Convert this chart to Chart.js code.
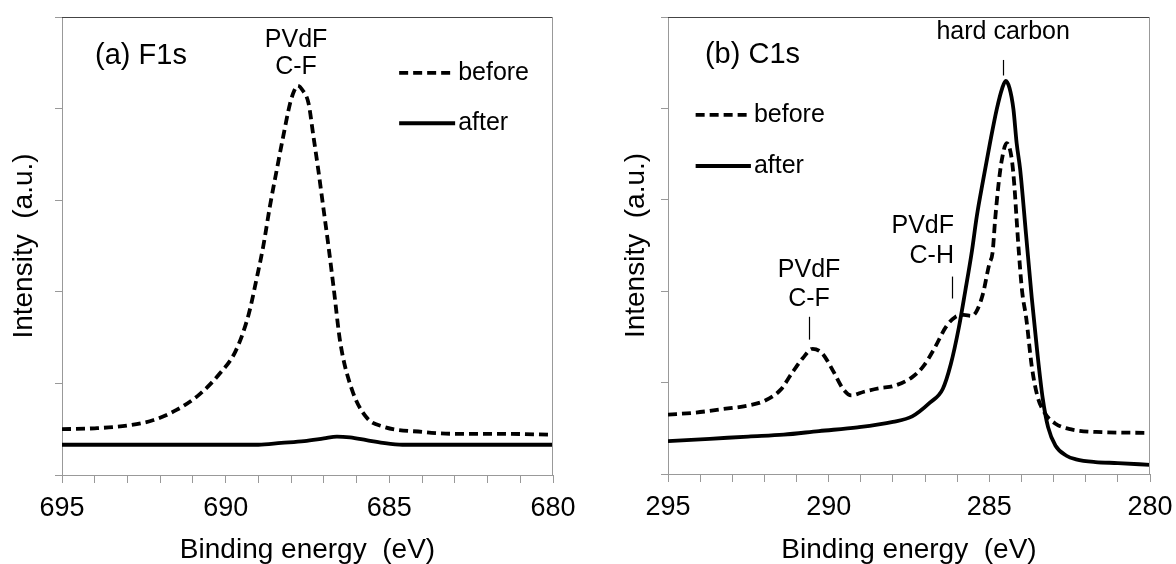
<!DOCTYPE html>
<html>
<head>
<meta charset="utf-8">
<title>XPS F1s / C1s</title>
<script src="https://cdn.jsdelivr.net/npm/chart.js@4.4.0/dist/chart.umd.min.js"></script>
<style>
  body { margin: 0; background: #fff; }
  .panel { position: absolute; top: 0; width: 588px; height: 564px; }
  #panelA { left: 0; }
  #panelB { left: 588px; }
</style>
</head>
<body>
<div class="panel" id="panelA"><canvas id="chartA" width="588" height="564"></canvas></div>
<div class="panel" id="panelB"><canvas id="chartB" width="588" height="564"></canvas></div>
<script>
// (a) F1s - binding energy (eV) dan intensitas (a.u.)
const f1sBeforeE = [695, 694, 693, 692.2, 691.5, 690.8, 690.2, 689.7, 689.3, 689.05, 688.85, 688.65, 688.44, 688.24, 688.03, 687.9, 687.8, 687.65, 687.47, 687.32, 687.17, 687.02, 686.86, 686.7, 686.5, 686.15, 685.7, 685.2, 684.0, 683.0, 681.7, 680];
const f1sBeforeI = [0.50, 0.51, 0.54, 0.60, 0.71, 0.88, 1.10, 1.35, 1.75, 2.15, 2.50, 2.93, 3.33, 3.70, 4.06, 4.20, 4.25, 4.20, 4.06, 3.70, 3.33, 2.93, 2.50, 2.04, 1.45, 0.94, 0.63, 0.53, 0.47, 0.45, 0.45, 0.44];
const f1sAfterE = [695, 689, 688.3, 687.6, 687, 686.6, 686.2, 685.7, 685.2, 684.6, 680];
const f1sAfterI = [0.33, 0.33, 0.35, 0.37, 0.40, 0.42, 0.41, 0.38, 0.35, 0.33, 0.33];

// (b) C1s
const c1sBeforeE = [295, 294.2, 293.3, 292.5, 292, 291.5, 291.15, 290.8, 290.5, 290.2, 289.85, 289.55, 289.3, 288.9, 288.4, 288, 287.4, 287.05, 286.7, 286.35, 286.05, 285.8, 285.55, 285.4, 285.2, 285.0, 284.9, 284.82, 284.72, 284.61, 284.46, 284.3, 284.22, 284.15, 284.08, 283.98, 283.85, 283.68, 283.51, 283.28, 282.94, 282.48, 281.68, 280];
const c1sBeforeI = [0.65, 0.67, 0.71, 0.75, 0.80, 0.92, 1.10, 1.27, 1.37, 1.32, 1.12, 0.93, 0.86, 0.90, 0.94, 0.96, 1.06, 1.18, 1.38, 1.61, 1.72, 1.74, 1.73, 1.78, 1.97, 2.30, 2.42, 2.78, 3.15, 3.44, 3.62, 3.44, 3.15, 2.78, 2.42, 2.00, 1.70, 1.18, 0.86, 0.67, 0.55, 0.49, 0.46, 0.45];
const c1sAfterE = [295, 293.7, 292.5, 291.4, 290.3, 289.1, 288, 287.4, 286.85, 286.45, 286.2, 285.95, 285.75, 285.55, 285.39, 285.19, 284.98, 284.77, 284.6, 284.49, 284.37, 284.25, 284.15, 284.04, 283.86, 283.68, 283.51, 283.34, 283.17, 282.94, 282.6, 282.3, 281.7, 281, 280];
const c1sAfterI = [0.36, 0.385, 0.41, 0.43, 0.47, 0.51, 0.57, 0.63, 0.78, 0.93, 1.20, 1.60, 2.00, 2.42, 2.82, 3.22, 3.62, 3.99, 4.22, 4.30, 4.22, 3.99, 3.62, 3.33, 2.63, 1.93, 1.34, 0.83, 0.51, 0.31, 0.20, 0.16, 0.13, 0.12, 0.10];

const seriesNames = ['before', 'after'];
const FONT = "'Liberation Sans', Arial, sans-serif";

// Teks anotasi & legenda (posisi dalam koordinat data)
const notesA = [
  { text: '(a) F1s', e: 693.99, v: 4.57, align: 'left', size: 29 },
  { text: 'PVdF', e: 687.85, v: 4.75, align: 'center', size: 25 },
  { text: 'C-F', e: 687.85, v: 4.45, align: 'center', size: 25 }
];
const marksA = [];
const legendA = { e0: 684.70, e1: 682.99, v: [4.39, 3.84] };

const notesB = [
  { text: '(b) C1s', e: 293.85, v: 4.58, align: 'left', size: 29 },
  { text: 'hard carbon', e: 284.57, v: 4.83, align: 'center', size: 25 },
  { text: 'PVdF', e: 286.1, v: 2.71, align: 'right', size: 25 },
  { text: 'C-H', e: 286.1, v: 2.38, align: 'right', size: 25 },
  { text: 'PVdF', e: 290.61, v: 2.23, align: 'center', size: 25 },
  { text: 'C-F', e: 290.61, v: 1.91, align: 'center', size: 25 }
];
const marksB = [[284.57, 4.53, 4.36], [286.17, 2.16, 1.92], [290.61, 1.72, 1.47]];
const legendB = { e0: 294.14, e1: 292.42, v: [3.93, 3.37] };

const DASH = [9, 5];
const LINE_W = 3.8;

function toPoints(xs, ys) {
  return xs.map((x, i) => ({ x: x, y: ys[i] }));
}

// Plugin: garis atas/kanan, anotasi, legenda
function decorPlugin(notes, marks, legend) {
  return {
    id: 'decor',
    afterDraw(chart) {
      const ctx = chart.ctx;
      const a = chart.chartArea;
      const sx = chart.scales.x, sy = chart.scales.y;
      ctx.save();
      ctx.lineWidth = 1;
      ctx.strokeStyle = '#444';
      ctx.beginPath(); ctx.moveTo(a.left, a.top + 0.5); ctx.lineTo(a.right, a.top + 0.5); ctx.stroke();
      ctx.strokeStyle = '#999';
      ctx.beginPath(); ctx.moveTo(a.right - 0.5, a.top); ctx.lineTo(a.right - 0.5, a.bottom); ctx.stroke();

      ctx.fillStyle = '#000';
      ctx.textBaseline = 'middle';
      notes.forEach(n => {
        ctx.font = n.size + 'px ' + FONT;
        ctx.textAlign = n.align;
        ctx.fillText(n.text, sx.getPixelForValue(n.e), sy.getPixelForValue(n.v));
      });

      ctx.strokeStyle = '#000';
      ctx.lineWidth = 1.2;
      marks.forEach(m => {
        const x = Math.round(sx.getPixelForValue(m[0])) + 0.5;
        ctx.beginPath(); ctx.moveTo(x, sy.getPixelForValue(m[1])); ctx.lineTo(x, sy.getPixelForValue(m[2])); ctx.stroke();
      });

      // legenda
      const x0 = sx.getPixelForValue(legend.e0), x1 = sx.getPixelForValue(legend.e1);
      ctx.lineWidth = LINE_W;
      ctx.font = '25px ' + FONT;
      ctx.textAlign = 'left';
      seriesNames.forEach((name, i) => {
        const y = sy.getPixelForValue(legend.v[i]);
        ctx.setLineDash(i === 0 ? DASH : []);
        ctx.beginPath(); ctx.moveTo(x0, y); ctx.lineTo(x1, y); ctx.stroke();
        ctx.setLineDash([]);
        ctx.fillText(name, x1 + 3, y);
      });
      ctx.restore();
    }
  };
}

function buildChart(id, cfg) {
  const ctx = document.getElementById(id).getContext('2d');
  return new Chart(ctx, {
    type: 'line',
    data: {
      datasets: [
        { label: seriesNames[0], data: toPoints(cfg.beforeE, cfg.beforeI), borderColor: '#000', borderWidth: LINE_W, borderDash: DASH, pointRadius: 0, fill: false, cubicInterpolationMode: 'monotone' },
        { label: seriesNames[1], data: toPoints(cfg.afterE, cfg.afterI), borderColor: '#000', borderWidth: LINE_W, pointRadius: 0, fill: false, cubicInterpolationMode: 'monotone' }
      ]
    },
    options: {
      responsive: false, animation: false, devicePixelRatio: 1,
      layout: { padding: { left: 0, right: cfg.padRight, top: 17, bottom: 0 } },
      plugins: { legend: { display: false }, tooltip: { enabled: false } },
      scales: {
        x: {
          type: 'linear', reverse: true, min: cfg.xMin, max: cfg.xMax,
          afterFit: s => { s.height = cfg.xHeight; s.paddingLeft = 0; s.paddingRight = 0; },
          border: { display: true, color: '#999' },
          grid: { display: true, drawOnChartArea: false, drawTicks: true, tickLength: 8, color: '#999' },
          ticks: { stepSize: 1, autoSkip: false, maxRotation: 0, minRotation: 0, padding: 9, color: '#000',
                   font: { family: FONT, size: 27 },
                   callback: v => (v % 5 === 0 ? String(v) : '') },
          title: { display: true, text: 'Binding energy  (eV)', color: '#000', padding: { top: 0, bottom: 0 },
                   font: { family: FONT, size: 28, lineHeight: 1 } }
        },
        y: {
          type: 'linear', min: 0, max: 5,
          afterFit: s => { s.width = cfg.yWidth; s.paddingTop = 0; s.paddingBottom = 0; },
          border: { display: true, color: '#999' },
          grid: { display: true, drawOnChartArea: false, drawTicks: true, tickLength: 7, color: '#999' },
          ticks: { stepSize: 1, callback: () => '' },
          title: { display: true, text: 'Intensity  (a.u.)', color: '#000', padding: { top: cfg.yTitlePad, bottom: 0 },
                   font: { family: FONT, size: 28, lineHeight: 1 } }
        }
      }
    },
    plugins: [decorPlugin(cfg.notes, cfg.marks, cfg.legend)]
  });
}

document.addEventListener('DOMContentLoaded', () => {
  buildChart('chartA', {
    beforeE: f1sBeforeE, beforeI: f1sBeforeI, afterE: f1sAfterE, afterI: f1sAfterI,
    xMin: 680, xMax: 695, padRight: 35, xHeight: 89, yWidth: 62, yTitlePad: 10,
    notes: notesA, marks: marksA, legend: legendA
  });
  buildChart('chartB', {
    beforeE: c1sBeforeE, beforeI: c1sBeforeI, afterE: c1sAfterE, afterI: c1sAfterI,
    xMin: 280, xMax: 295, padRight: 26, xHeight: 90, yWidth: 80, yTitlePad: 34,
    notes: notesB, marks: marksB, legend: legendB
  });
});
</script>
</body>
</html>
